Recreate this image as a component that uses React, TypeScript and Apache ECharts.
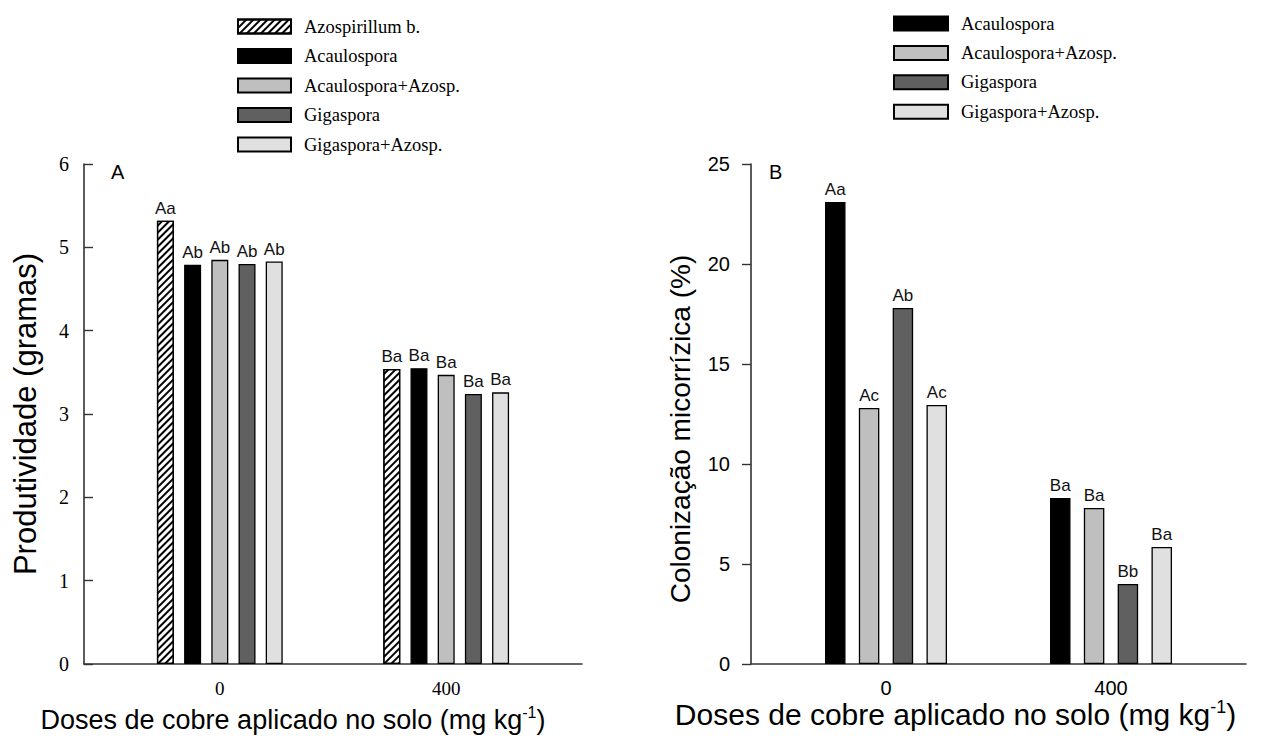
import React, { useEffect, useRef } from "react";
import * as echarts from "echarts";

// Doses of copper (x positions) and their tick labels
const doses = [0, 400];
const doseLabels = ["0", "400"];

// Panel A: Produtividade (gramas)
const namesA = ["Azospirillum b.", "Acaulospora", "Acaulospora+Azosp.", "Gigaspora", "Gigaspora+Azosp."];
const azoA = [5.32, 3.54];
const acaulA = [4.79, 3.55];
const acaulAzoA = [4.85, 3.47];
const gigaA = [4.8, 3.24];
const gigaAzoA = [4.83, 3.26];
const lettersA = [
  ["Aa", "Ba"],
  ["Ab", "Ba"],
  ["Ab", "Ba"],
  ["Ab", "Ba"],
  ["Ab", "Ba"],
];

// Panel B: Colonização micorrízica (%)
const namesB = ["Acaulospora", "Acaulospora+Azosp.", "Gigaspora", "Gigaspora+Azosp."];
const acaulB = [23.1, 8.3];
const acaulAzoB = [12.8, 7.8];
const gigaB = [17.8, 4.0];
const gigaAzoB = [12.95, 5.85];
const lettersB = [
  ["Aa", "Ba"],
  ["Ac", "Ba"],
  ["Ab", "Bb"],
  ["Ac", "Ba"],
];

const yTicksA = [0, 1, 2, 3, 4, 5, 6];
const yTicksB = [0, 5, 10, 15, 20, 25];

const SERIF = "Liberation Serif";
const SANS = "Liberation Sans";

const fills: Record<string, string> = {
  "Azospirillum b.": "#ffffff",
  Acaulospora: "#000000",
  "Acaulospora+Azosp.": "#bfbfbf",
  Gigaspora: "#606060",
  "Gigaspora+Azosp.": "#e0e0e0",
};

export default function App() {
  const ref = useRef<HTMLDivElement>(null);
  useEffect(() => {
    if (!ref.current) return;
    const chart = echarts.init(ref.current, null, { renderer: "svg" });
    const valsA = [azoA, acaulA, acaulAzoA, gigaA, gigaAzoA];
    const valsB = [acaulB, acaulAzoB, gigaB, gigaAzoB];

    const mkSeries = (names: string[], vals: number[][], letters: string[][], axisIndex: number, width: number, gap: string) =>
      names.map((name, i) => ({
        name,
        type: "bar",
        xAxisIndex: axisIndex,
        yAxisIndex: axisIndex,
        barWidth: width,
        barGap: gap,
        data: doses.map((d, j) => [d, vals[i][j]]),
        itemStyle: {
          color: fills[name],
          borderColor: "#000",
          borderWidth: 1.3,
          decal:
            name === "Azospirillum b."
              ? {
                  symbol: "rect",
                  symbolSize: 1,
                  dashArrayX: [1, 0],
                  dashArrayY: [2, 3],
                  rotation: -Math.PI / 4,
                  color: "#000",
                  backgroundColor: null,
                }
              : "none",
        },
        label: {
          show: true,
          position: "top",
          distance: 4,
          fontFamily: SANS,
          fontSize: 17,
          color: "#111",
          formatter: (p: any) => letters[i][p.dataIndex],
        },
      }));

    const xAxisBase = (
      fontFamily: string,
      fontSize: number,
      margin: number,
      nameGap: number,
      nameSize: number,
      namePad: number[],
      moveOverlap: boolean
    ) => ({
      type: "value",
      min: -240,
      max: 640,
      splitLine: { show: false },
      axisTick: { show: false },
      axisLine: { show: true, onZero: false, lineStyle: { color: "#333", width: 1.6 } },
      axisLabel: {
        customValues: doses,
        formatter: (v: number) => doseLabels[doses.indexOf(v)] ?? "",
        fontFamily,
        fontSize,
        color: "#000",
        margin,
      },
      name: "Doses de cobre aplicado no solo (mg kg{sup|-1})",
      nameLocation: "middle",
      nameGap,
      nameMoveOverlap: moveOverlap,
      nameTextStyle: {
        fontFamily: SANS,
        fontSize: nameSize,
        color: "#000",
        padding: namePad,
        rich: {
          sup: { fontFamily: SANS, fontSize: Math.round(nameSize * 0.6), color: "#000", padding: [0, 0, 15, 0] },
        },
      },
    });

    const legendText = { fontFamily: SERIF, fontSize: 18.5, color: "#000", padding: [0, 0, 0, 8] };

    const option: any = {
      animation: false,
      backgroundColor: "#fff",
      grid: [
        { left: 84, right: 684, top: 164, bottom: 75, outerBoundsMode: "none", containLabel: false },
        { left: 751, right: 20, top: 164, bottom: 75, outerBoundsMode: "none", containLabel: false },
      ],
      xAxis: [
        { ...xAxisBase(SERIF, 19, 15, 40, 27, [0, 80, 0, 0], true), gridIndex: 0 },
        { ...xAxisBase(SANS, 20, 14, 34, 30, [0, 86, 0, 0], false), gridIndex: 1 },
      ],
      yAxis: [
        {
          gridIndex: 0,
          type: "value",
          min: yTicksA[0],
          max: yTicksA[yTicksA.length - 1],
          interval: 1,
          splitLine: { show: false },
          axisLine: { show: true, onZero: false, lineStyle: { color: "#333", width: 1.6 } },
          axisTick: { show: true, inside: true, length: 9, lineStyle: { color: "#333", width: 1.4 } },
          axisLabel: { fontFamily: SERIF, fontSize: 20, color: "#000", margin: 15 },
          name: "Produtividade (gramas)",
          nameLocation: "middle",
          nameGap: 43,
          nameTextStyle: { fontFamily: SANS, fontSize: 31, color: "#000" },
        },
        {
          gridIndex: 1,
          type: "value",
          min: yTicksB[0],
          max: yTicksB[yTicksB.length - 1],
          interval: 5,
          splitLine: { show: false },
          axisLine: { show: true, onZero: false, lineStyle: { color: "#333", width: 1.6 } },
          axisTick: { show: true, inside: false, length: 9, lineStyle: { color: "#333", width: 1.4 } },
          axisLabel: { fontFamily: SANS, fontSize: 20, color: "#000", margin: 21 },
          name: "Colonização micorrízica (%)",
          nameLocation: "middle",
          nameGap: 57,
          nameTextStyle: { fontFamily: SANS, fontSize: 28, color: "#000", padding: [0, 30, 0, 0] },
        },
      ],
      legend: [
        {
          orient: "vertical",
          left: 237,
          top: 17,
          padding: 0,
          icon: "rect",
          itemWidth: 53,
          itemHeight: 14,
          itemGap: 10.5,
          selectedMode: false,
          data: namesA,
          textStyle: legendText,
        },
        {
          orient: "vertical",
          left: 893,
          top: 14,
          padding: 0,
          icon: "rect",
          itemWidth: 54,
          itemHeight: 14,
          itemGap: 10.4,
          selectedMode: false,
          data: namesB,
          textStyle: legendText,
        },
      ],
      graphic: [
        { type: "text", left: 111, top: 162, style: { text: "A", fontFamily: SANS, fontSize: 20, fill: "#000" } },
        { type: "text", left: 769, top: 162, style: { text: "B", fontFamily: SANS, fontSize: 20, fill: "#000" } },
      ],
      series: [
        ...mkSeries(namesA, valsA, lettersA, 0, 17, "60%"),
        ...mkSeries(namesB, valsB, lettersB, 1, 20.5, "65%"),
      ],
    };
    chart.setOption(option);
    return () => chart.dispose();
  }, []);
  return <div ref={ref} style={{ position: "fixed", left: 0, top: 0, width: 1266, height: 739 }} />;
}
